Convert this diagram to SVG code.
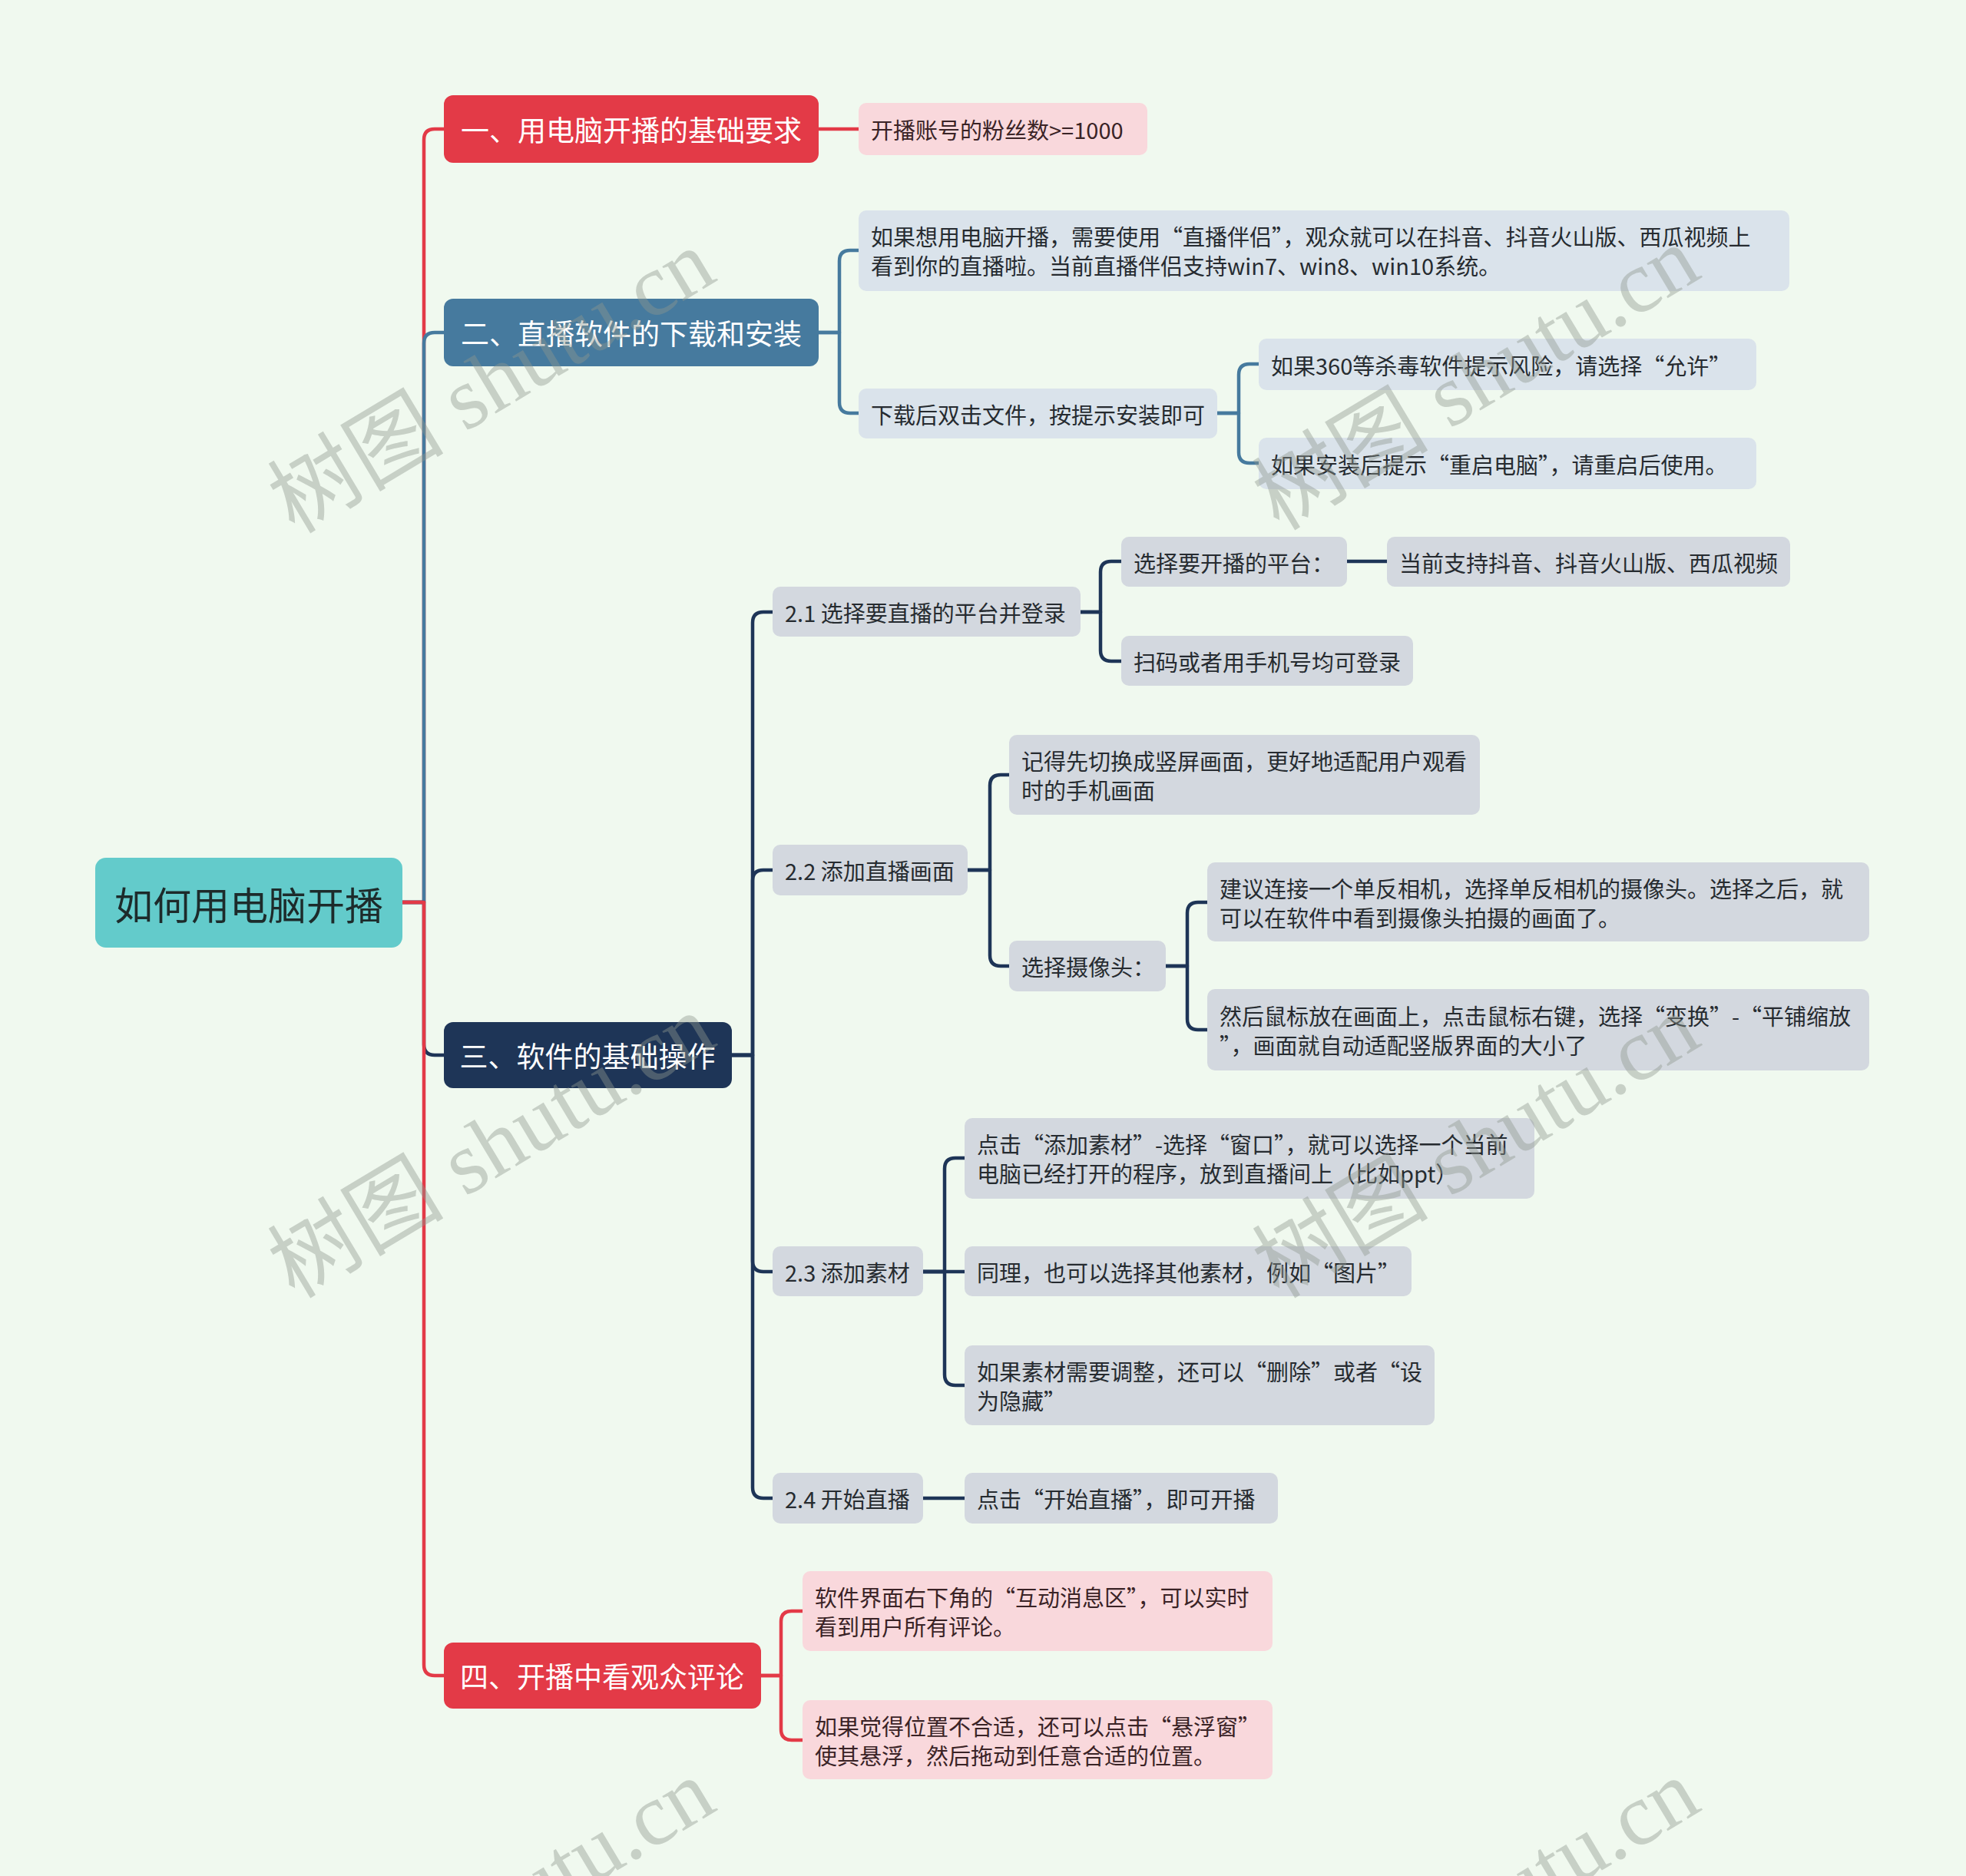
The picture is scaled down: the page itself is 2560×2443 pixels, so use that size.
<svg xmlns="http://www.w3.org/2000/svg" width="2560" height="2443" viewBox="0 0 2560 2443">
<style>
.t{font-family:"Noto Sans CJK SC","Noto Sans",sans-serif;dominant-baseline:central}
.c{font-size:29px;fill:#262b30}
.cp{font-size:29px;fill:#3a2326}
.l1{font-size:37px;fill:#ffffff;text-anchor:middle}
.root{font-size:50px;fill:#1d2b2b;text-anchor:middle}
.red{fill:#e33a47}
.blue{fill:#467a9e}
.navy{fill:#1e3557}
.pink{fill:#f9d8dc}
.lb{fill:#dae3eb}
.gr{fill:#d3d8df}
.ln{fill:none;stroke-width:4.5;stroke-linecap:round;stroke-linejoin:round}
.lr{stroke:#e33a47}
.lbl{stroke:#467a9e}
.lnv{stroke:#1e3557}
.wm{font-family:"Liberation Serif","Noto Sans CJK SC",serif;font-size:115px;fill:#8f988f;opacity:0.42;text-anchor:middle}
</style>
<rect x="0" y="0" width="2560" height="2443" fill="#f0f9ef"/>

<g id="connectors">
<path class="ln lr" d="M524,1175 H552 V182 Q552,168 566,168 H578"/>
<path class="ln lbl" d="M524,1175 H552 V447 Q552,433 566,433 H578"/>
<path class="ln lnv" d="M524,1175 H552 V1360 Q552,1374 566,1374 H578"/>
<path class="ln lr" d="M524,1175 H552 V2168 Q552,2182 566,2182 H578"/>
<path class="ln lr" d="M1066,168 H1118"/>
<path class="ln lbl" d="M1066,433 H1093 V340 Q1093,326 1107,326 H1118"/>
<path class="ln lbl" d="M1066,433 H1093 V524 Q1093,538 1107,538 H1118"/>
<path class="ln lbl" d="M1585,538 H1613 V488 Q1613,474 1627,474 H1639"/>
<path class="ln lbl" d="M1585,538 H1613 V589 Q1613,603 1627,603 H1639"/>
<path class="ln lnv" d="M953,1374 H980 V811 Q980,797 994,797 H1006"/>
<path class="ln lnv" d="M953,1374 H980 V1147 Q980,1133 994,1133 H1006"/>
<path class="ln lnv" d="M953,1374 H980 V1642 Q980,1656 994,1656 H1006"/>
<path class="ln lnv" d="M953,1374 H980 V1937 Q980,1951 994,1951 H1006"/>
<path class="ln lnv" d="M1407,797 H1433 V745 Q1433,731 1447,731 H1460"/>
<path class="ln lnv" d="M1407,797 H1433 V847 Q1433,861 1447,861 H1460"/>
<path class="ln lnv" d="M1754,731 H1806"/>
<path class="ln lnv" d="M1260,1133 H1289 V1023 Q1289,1009 1303,1009 H1314"/>
<path class="ln lnv" d="M1260,1133 H1289 V1244 Q1289,1258 1303,1258 H1314"/>
<path class="ln lnv" d="M1518,1258 H1546 V1189 Q1546,1175 1560,1175 H1572"/>
<path class="ln lnv" d="M1518,1258 H1546 V1327 Q1546,1341 1560,1341 H1572"/>
<path class="ln lnv" d="M1202,1656 H1230 V1522 Q1230,1508 1244,1508 H1256"/>
<path class="ln lnv" d="M1202,1656 H1256"/>
<path class="ln lnv" d="M1202,1656 H1230 V1790 Q1230,1804 1244,1804 H1256"/>
<path class="ln lnv" d="M1202,1951 H1256"/>
<path class="ln lr" d="M991,2182 H1017 V2112 Q1017,2098 1031,2098 H1045"/>
<path class="ln lr" d="M991,2182 H1017 V2252 Q1017,2266 1031,2266 H1045"/>
</g>

<g id="root">
<rect x="124" y="1117" width="400" height="117" rx="14" fill="#63cbcb"/>
<text class="t root" x="324" y="1176">如何用电脑开播</text>
</g>

<g id="n1">
<rect class="red" x="578" y="124" width="488" height="88" rx="12"/>
<text class="t l1" x="822" y="168">一、用电脑开播的基础要求</text>
</g>
<g id="n1c">
<rect class="pink" x="1118" y="134" width="376" height="68" rx="10"/>
<text class="t cp" x="1134" y="168">开播账号的粉丝数&gt;=1000</text>
</g>

<g id="n2">
<rect class="blue" x="578" y="389" width="488" height="88" rx="12"/>
<text class="t l1" x="822" y="433">二、直播软件的下载和安装</text>
</g>
<g id="n2c1">
<rect class="lb" x="1118" y="274" width="1212" height="105" rx="10"/>
<text class="t c" x="1134" y="307">如果想用电脑开播，需要使用“直播伴侣”，观众就可以在抖音、抖音火山版、西瓜视频上</text>
<text class="t c" x="1134" y="345">看到你的直播啦。当前直播伴侣支持win7、win8、win10系统。</text>
</g>
<g id="n2c2">
<rect class="lb" x="1118" y="506" width="467" height="65" rx="10"/>
<text class="t c" x="1134" y="539">下载后双击文件，按提示安装即可</text>
</g>
<g id="n2c2a">
<rect class="lb" x="1639" y="441" width="648" height="67" rx="10"/>
<text class="t c" x="1655" y="475">如果360等杀毒软件提示风险，请选择“允许”</text>
</g>
<g id="n2c2b">
<rect class="lb" x="1639" y="570" width="648" height="67" rx="10"/>
<text class="t c" x="1655" y="604">如果安装后提示“重启电脑”，请重启后使用。</text>
</g>

<g id="n3">
<rect class="navy" x="578" y="1331" width="375" height="86" rx="12"/>
<text class="t l1" x="765" y="1374">三、软件的基础操作</text>
</g>
<g id="n31">
<rect class="gr" x="1006" y="764" width="401" height="65" rx="10"/>
<text class="t c" x="1022" y="797">2.1 选择要直播的平台并登录</text>
</g>
<g id="n311">
<rect class="gr" x="1460" y="699" width="294" height="65" rx="10"/>
<text class="t c" x="1476" y="732">选择要开播的平台：</text>
</g>
<g id="n3111">
<rect class="gr" x="1806" y="699" width="525" height="65" rx="10"/>
<text class="t c" x="1822" y="732">当前支持抖音、抖音火山版、西瓜视频</text>
</g>
<g id="n312">
<rect class="gr" x="1460" y="828" width="380" height="65" rx="10"/>
<text class="t c" x="1476" y="861">扫码或者用手机号均可登录</text>
</g>
<g id="n32">
<rect class="gr" x="1006" y="1100" width="254" height="66" rx="10"/>
<text class="t c" x="1022" y="1133">2.2 添加直播画面</text>
</g>
<g id="n321">
<rect class="gr" x="1314" y="957" width="613" height="104" rx="10"/>
<text class="t c" x="1330" y="990">记得先切换成竖屏画面，更好地适配用户观看</text>
<text class="t c" x="1330" y="1028">时的手机画面</text>
</g>
<g id="n322">
<rect class="gr" x="1314" y="1225" width="204" height="66" rx="10"/>
<text class="t c" x="1330" y="1258">选择摄像头：</text>
</g>
<g id="n3221">
<rect class="gr" x="1572" y="1123" width="862" height="103" rx="10"/>
<text class="t c" x="1588" y="1156">建议连接一个单反相机，选择单反相机的摄像头。选择之后，就</text>
<text class="t c" x="1588" y="1194">可以在软件中看到摄像头拍摄的画面了。</text>
</g>
<g id="n3222">
<rect class="gr" x="1572" y="1288" width="862" height="106" rx="10"/>
<text class="t c" x="1588" y="1322">然后鼠标放在画面上，点击鼠标右键，选择“变换”-“平铺缩放</text>
<text class="t c" x="1588" y="1360">”，画面就自动适配竖版界面的大小了</text>
</g>
<g id="n33">
<rect class="gr" x="1006" y="1623" width="196" height="65" rx="10"/>
<text class="t c" x="1022" y="1656">2.3 添加素材</text>
</g>
<g id="n331">
<rect class="gr" x="1256" y="1456" width="742" height="105" rx="10"/>
<text class="t c" x="1272" y="1489">点击“添加素材”-选择“窗口”，就可以选择一个当前</text>
<text class="t c" x="1272" y="1527">电脑已经打开的程序，放到直播间上（比如ppt）</text>
</g>
<g id="n332">
<rect class="gr" x="1256" y="1623" width="582" height="65" rx="10"/>
<text class="t c" x="1272" y="1656">同理，也可以选择其他素材，例如“图片”</text>
</g>
<g id="n333">
<rect class="gr" x="1256" y="1752" width="612" height="104" rx="10"/>
<text class="t c" x="1272" y="1785">如果素材需要调整，还可以“删除”或者“设</text>
<text class="t c" x="1272" y="1823">为隐藏”</text>
</g>
<g id="n34">
<rect class="gr" x="1006" y="1918" width="196" height="66" rx="10"/>
<text class="t c" x="1022" y="1951">2.4 开始直播</text>
</g>
<g id="n341">
<rect class="gr" x="1256" y="1918" width="408" height="66" rx="10"/>
<text class="t c" x="1272" y="1951">点击“开始直播”，即可开播</text>
</g>

<g id="n4">
<rect class="red" x="578" y="2139" width="413" height="86" rx="12"/>
<text class="t l1" x="784" y="2182">四、开播中看观众评论</text>
</g>
<g id="n41">
<rect class="pink" x="1045" y="2046" width="612" height="104" rx="10"/>
<text class="t cp" x="1061" y="2079">软件界面右下角的“互动消息区”，可以实时</text>
<text class="t cp" x="1061" y="2117">看到用户所有评论。</text>
</g>
<g id="n42">
<rect class="pink" x="1045" y="2214" width="612" height="103" rx="10"/>
<text class="t cp" x="1061" y="2247">如果觉得位置不合适，还可以点击“悬浮窗”</text>
<text class="t cp" x="1061" y="2285">使其悬浮，然后拖动到任意合适的位置。</text>
</g>

<g id="watermarks">
<text class="wm" transform="translate(660,530) rotate(-31)">树图 shutu.cn</text>
<text class="wm" transform="translate(1942,526) rotate(-31)">树图 shutu.cn</text>
<text class="wm" transform="translate(660,1526) rotate(-31)">树图 shutu.cn</text>
<text class="wm" transform="translate(1942,1526) rotate(-31)">树图 shutu.cn</text>
<text class="wm" transform="translate(660,2522) rotate(-31)">树图 shutu.cn</text>
<text class="wm" transform="translate(1942,2522) rotate(-31)">树图 shutu.cn</text>
</g>
</svg>
